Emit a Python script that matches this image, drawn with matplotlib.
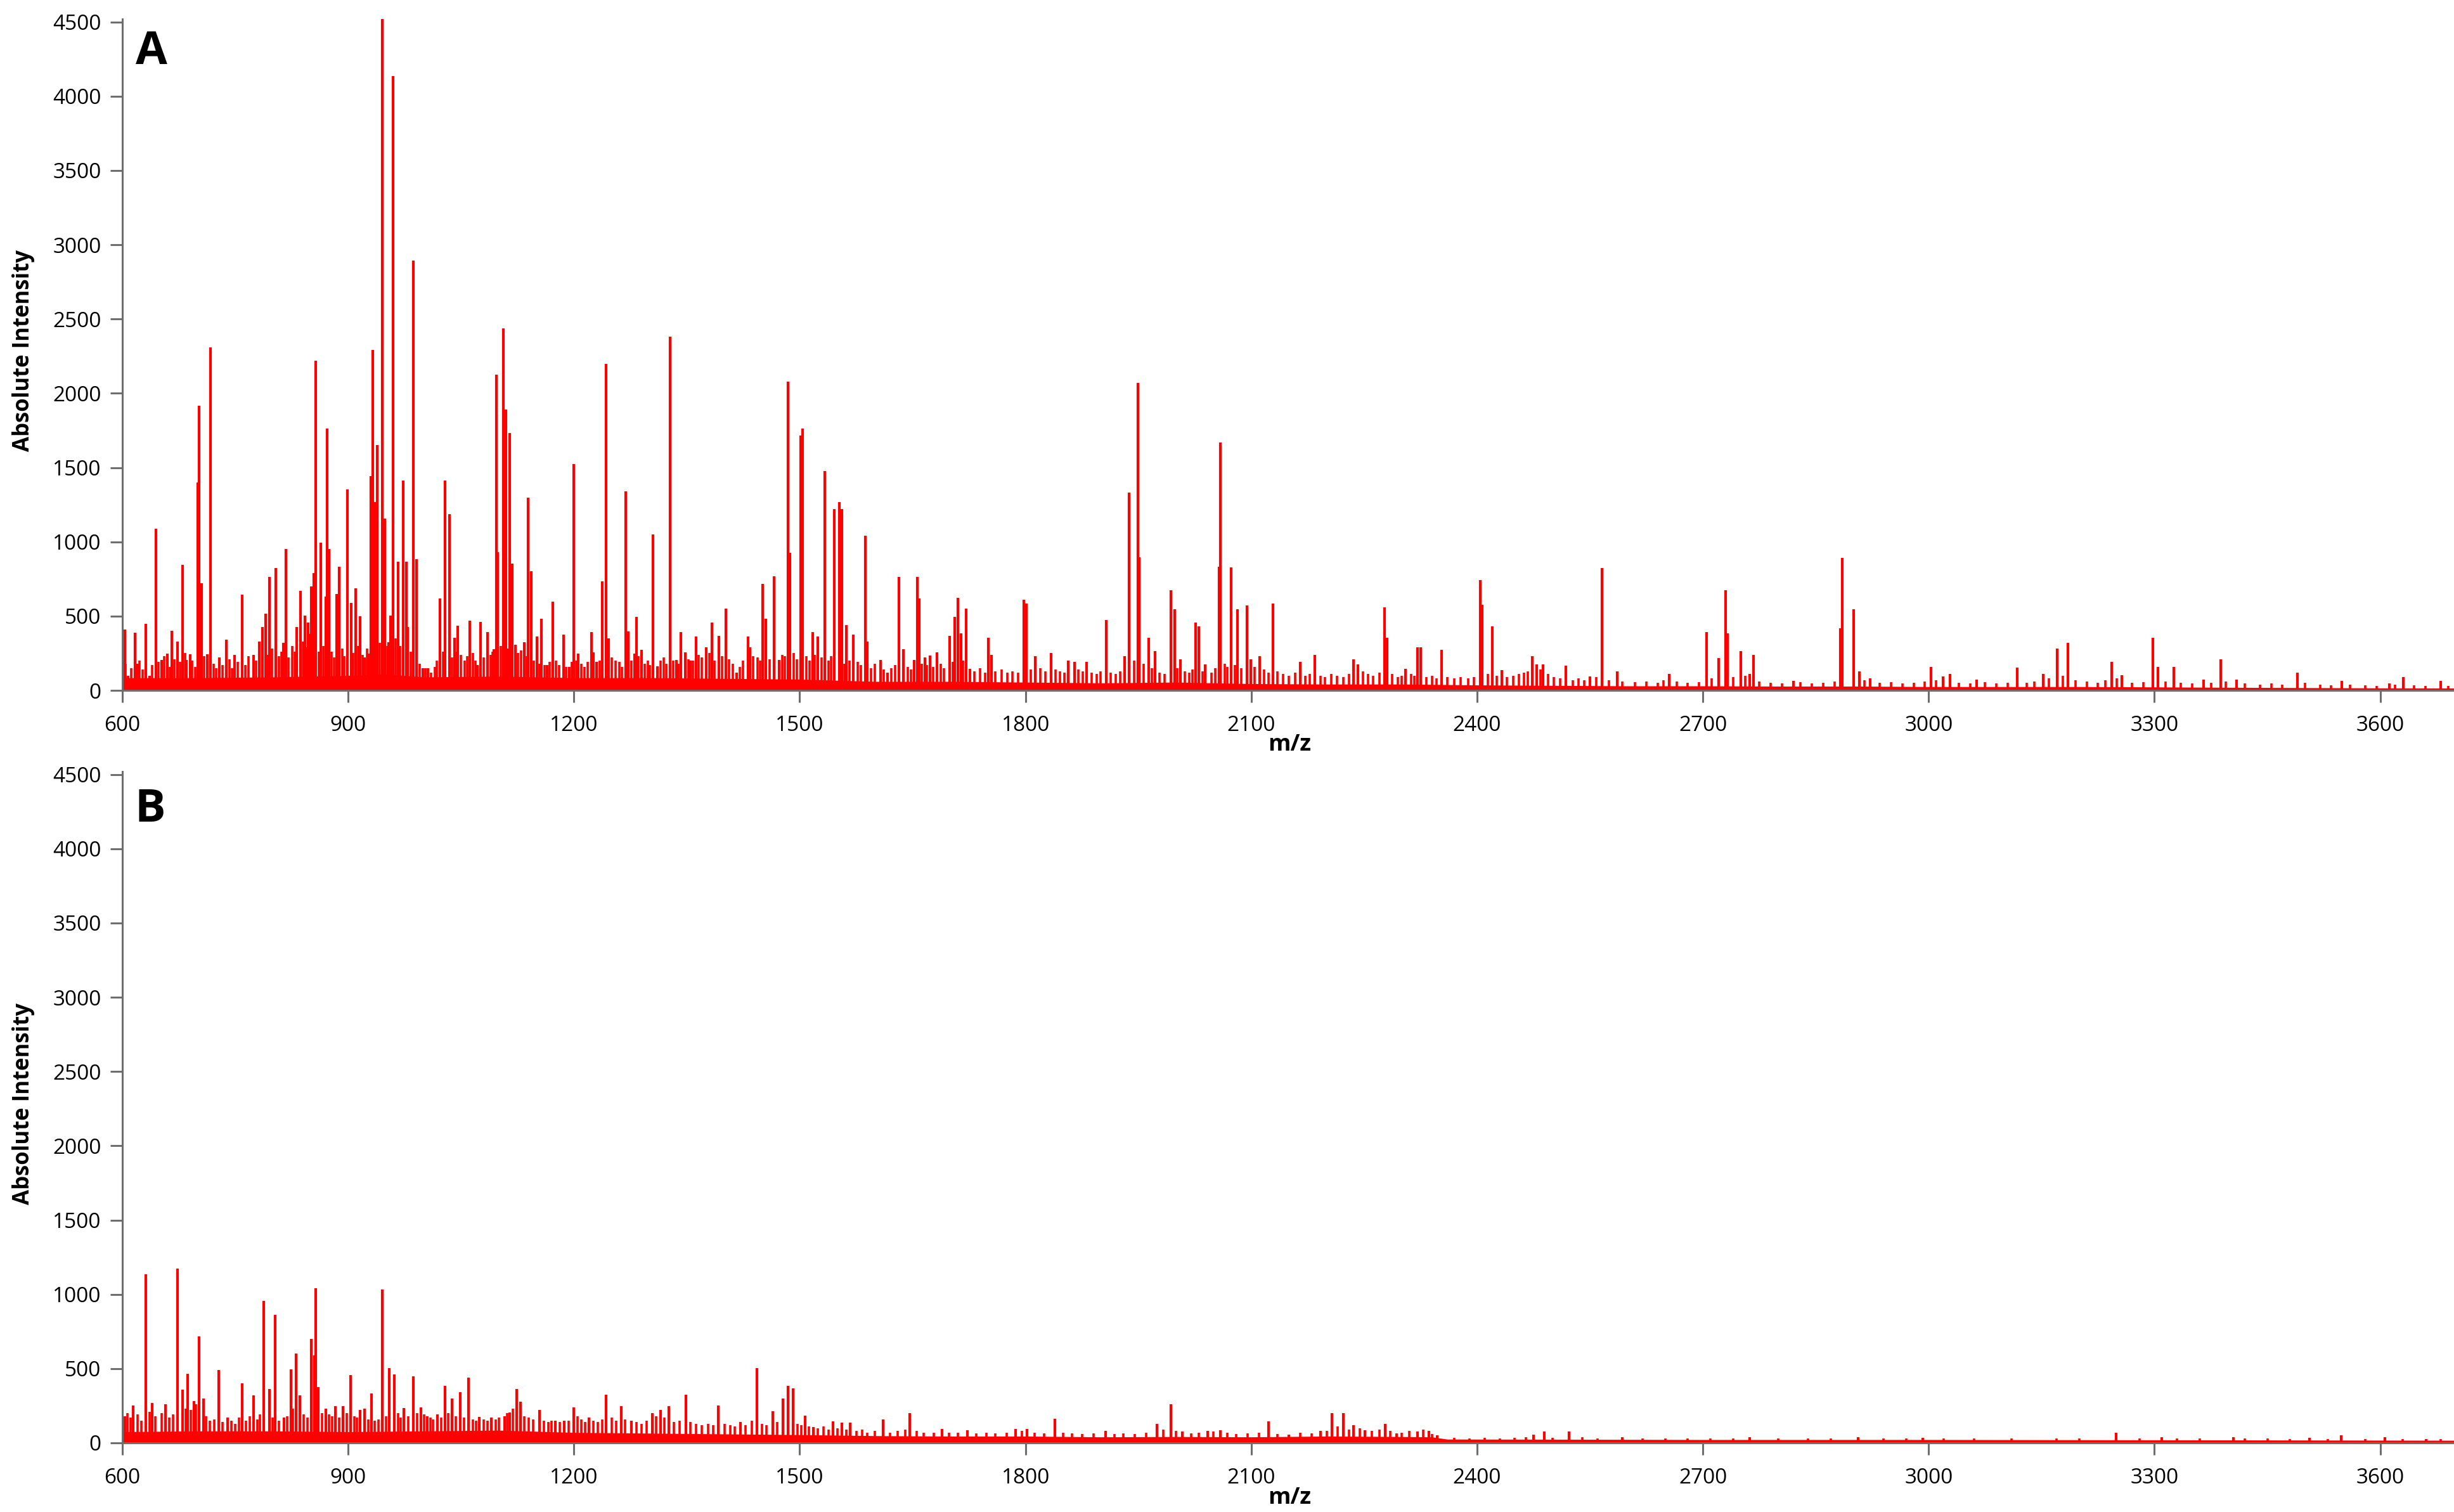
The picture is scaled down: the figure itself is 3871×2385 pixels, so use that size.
import numpy as np
import matplotlib
matplotlib.use("Agg")
import matplotlib.pyplot as plt

plt.rcParams['font.family'] = ['Open Sans', 'DejaVu Sans']

# ---- panel A: peaks (m/z, absolute intensity)
mz_a = [603, 608, 617, 620, 631, 636, 645, 652, 660, 666, 673, 680, 685, 690,
        700, 702, 705, 713, 717, 729, 738, 749, 759, 774, 782, 786, 790, 795,
        804, 814, 817, 832, 837, 843, 847, 851, 854, 857, 864, 870, 872, 875,
        885, 888, 899, 904, 910, 916, 922, 928, 930, 933, 935, 939, 945, 949,
        954, 956, 960, 966, 973, 977, 979, 987, 991, 999, 1006, 1022, 1029,
        1035, 1041, 1046, 1062, 1072, 1076, 1085, 1094, 1097, 1099, 1106,
        1110, 1115, 1118, 1122, 1134, 1139, 1143, 1151, 1157, 1164, 1172,
        1186, 1194, 1200, 1206, 1223, 1226, 1230, 1238, 1243, 1246, 1269,
        1272, 1281, 1283, 1290, 1305, 1311, 1328, 1336, 1342, 1348, 1355,
        1362, 1376, 1383, 1393, 1402, 1416, 1431, 1434, 1451, 1455, 1466,
        1473, 1484, 1487, 1501, 1504, 1517, 1524, 1533, 1546, 1553, 1556,
        1562, 1571, 1587, 1590, 1607, 1617, 1632, 1638, 1652, 1656, 1659,
        1666, 1673, 1682, 1699, 1706, 1710, 1714, 1721, 1726, 1751, 1755,
        1798, 1801, 1813, 1834, 1857, 1865, 1881, 1907, 1932, 1938, 1949,
        1951, 1964, 1972, 1993, 1998, 2006, 2026, 2030, 2039, 2057, 2059,
        2073, 2082, 2094, 2099, 2111, 2129, 2165, 2184, 2236, 2242, 2277,
        2280, 2305, 2321, 2325, 2353, 2404, 2407, 2420, 2433, 2473, 2479,
        2488, 2518, 2550, 2566, 2586, 2655, 2705, 2721, 2730, 2733, 2750,
        2762, 2767, 2820, 2883, 2885, 2900, 2908, 2922, 3003, 3019, 3028,
        3064, 3118, 3152, 3171, 3185, 3243, 3257, 3298, 3305, 3326, 3365,
        3388, 3409, 3490, 3549, 3612, 3631, 3680]
int_a = [410, 100, 390, 178, 450, 100, 1090, 206, 249, 400, 327, 845, 206, 242,
         1400, 1918, 722, 242, 2309, 220, 340, 238, 645, 240, 327, 427, 515, 764,
         825, 320, 950, 427, 670, 505, 455, 700, 789, 2219, 994, 633, 1764, 953,
         647, 832, 1353, 590, 687, 498, 220, 249, 1443, 2293, 1267, 1652, 4520, 1155,
         323, 505, 4137, 866, 1411, 866, 427, 2893, 882, 149, 149, 619, 1411,
         1187, 356, 434, 469, 171, 462, 391, 277, 2126, 930, 2437,
         1892, 1732, 853, 306, 323, 1299, 802, 363, 484, 171, 597,
         377, 156, 1523, 249, 391, 256, 192, 733, 2197, 348, 1341,
         398, 249, 497, 273, 1052, 164, 2383, 206, 391, 256, 199,
         363, 292, 455, 366, 550, 121, 363, 292, 718, 484, 768,
         206, 2078, 925, 1716, 1764, 391, 363, 1475, 1219, 1267, 1219,
         441, 377, 1040, 327, 206, 121, 764, 277, 206, 764, 619,
         220, 235, 256, 369, 497, 625, 385, 552, 144, 353, 241,
         609, 584, 231, 250, 199, 192, 192, 475, 231, 1331, 2069,
         898, 353, 263, 674, 545, 208, 455, 433, 176, 834, 1668,
         827, 545, 571, 208, 231, 584, 192, 241, 208, 176, 561,
         353, 144, 289, 289, 273, 744, 577, 433, 135, 231, 176,
         176, 167, 96, 824, 128, 112, 391, 218, 674, 385, 263,
         112, 241, 64, 417, 892, 545, 128, 80, 160, 96, 112,
         71, 154, 112, 282, 321, 192, 103, 353, 160, 160, 71,
         208, 71, 119, 64, 48, 90, 64]

# small noise spikes of panel A
grass_mz_a = [604, 612, 623, 627, 640, 648, 656, 663, 669, 677, 683, 693, 697, 709,
              721, 725, 733, 742, 746, 753, 763, 768, 778, 793, 799, 808, 811, 821,
              826, 829, 840, 845, 849, 861, 867, 878, 881, 892, 895, 907, 913, 919,
              925, 942, 952, 958, 963, 969, 983, 995, 1003, 1010, 1015, 1018, 1026,
              1038, 1044, 1050, 1055, 1058, 1066, 1069, 1080, 1089, 1092, 1103,
              1112, 1126, 1130, 1137, 1147, 1154, 1161, 1168, 1176, 1180, 1190,
              1197, 1203, 1210, 1214, 1218, 1234, 1250, 1255, 1260, 1264, 1276,
              1286, 1294, 1298, 1301, 1315, 1319, 1323, 1332, 1339, 1352, 1358,
              1366, 1370, 1380, 1387, 1397, 1406, 1411, 1420, 1425, 1438, 1444,
              1447, 1460, 1477, 1480, 1492, 1496, 1509, 1513, 1520, 1529, 1538,
              1542, 1559, 1566, 1577, 1581, 1595, 1600, 1612, 1622, 1627, 1644,
              1648, 1662, 1669, 1677, 1687, 1692, 1703, 1717,
              1732, 1740, 1746, 1760, 1768, 1776, 1783, 1790, 1807, 1820, 1826,
              1840, 1846, 1852, 1870, 1876, 1888, 1895, 1900, 1913, 1920, 1926,
              1944, 1957, 1968, 1978, 1985, 2002, 2012, 2018, 2022, 2035, 2047,
              2052, 2065, 2068, 2078, 2087, 2104, 2117, 2123, 2135, 2142, 2150,
              2158, 2172, 2178, 2192, 2198, 2206, 2214, 2222, 2230, 2248, 2255,
              2262, 2270, 2287, 2295, 2300, 2312, 2317, 2333, 2340, 2346, 2360,
              2370, 2378, 2388, 2396, 2414, 2426, 2440, 2448, 2456, 2462, 2467,
              2484, 2494, 2502, 2510, 2527, 2535, 2542, 2558, 2575, 2593,
              2610, 2625, 2640, 2648, 2665, 2680, 2695, 2712, 2740, 2756, 2775,
              2790, 2805, 2830, 2845, 2860, 2875, 2915, 2935, 2950, 2965, 2980,
              2995, 3010, 3040, 3055, 3075, 3090, 3105, 3130, 3140, 3160, 3178,
              3195, 3210, 3225, 3235, 3250, 3270, 3285, 3315, 3335, 3350, 3375,
              3395, 3420, 3440, 3455, 3470, 3500, 3520, 3535, 3560, 3580, 3595,
              3620, 3645, 3660, 3690]
grass_a = [180, 150, 200, 140, 170, 190, 230, 160, 210, 190, 250, 200, 160, 230,
           180, 150, 170, 210, 150, 190, 170, 230, 200, 240, 280, 230, 260, 220,
           300, 260, 330, 290, 380, 260, 300, 260, 220, 280, 230, 250, 300, 240,
           280, 320, 300, 280, 350, 300, 260, 180, 150, 120, 160, 200, 260,
           220, 260, 240, 200, 230, 250, 200, 220, 240, 260, 300,
           280, 250, 270, 230, 200, 180, 170, 190, 200, 170, 160,
           190, 200, 180, 160, 190, 200, 220, 200, 190, 160, 200,
           230, 180, 200, 170, 200, 220, 180, 200, 180, 210, 200,
           240, 220, 250, 200, 230, 210, 180, 160, 200, 230, 220,
           200, 210, 240, 230, 250, 210, 230, 200, 240, 220, 200,
           230, 180, 200, 190, 170, 150, 180, 140, 150, 170, 160,
           140, 180, 170, 160, 180, 150, 190, 200,
           130, 150, 120, 130, 140, 120, 130, 120, 140, 150, 130,
           140, 130, 120, 140, 130, 120, 110, 130, 120, 110, 130,
           200, 180, 150, 120, 110, 150, 130, 120, 140, 130, 120,
           150, 180, 160, 170, 150, 160, 140, 120, 130, 110, 100,
           120, 100, 110, 100, 90, 110, 100, 90, 110, 130, 110,
           100, 120, 110, 90, 100, 110, 100, 90, 100, 80, 90,
           80, 90, 80, 90, 110, 100, 90, 100, 110, 120, 130,
           140, 110, 90, 80, 70, 80, 70, 90, 70, 60,
           55, 60, 50, 70, 60, 50, 55, 80, 90, 100, 60,
           50, 45, 55, 45, 50, 60, 70, 50, 55, 45, 50,
           60, 70, 50, 45, 55, 45, 50, 50, 60, 80, 100,
           70, 60, 50, 70, 80, 50, 55, 60, 50, 45, 50,
           60, 45, 40, 45, 40, 50, 40, 35, 40, 35, 30,
           40, 35, 30, 30]

# dense noise floor of panel A
base_mz_a = [600, 700, 800, 900, 950, 1000, 1100, 1200, 1300, 1400, 1500, 1600,
             1700, 1800, 1900, 2000, 2100, 2200, 2300, 2400, 2500, 2600, 2700,
             2800, 2900, 3000, 3200, 3400, 3600, 3700]
base_a = [85, 85, 90, 100, 110, 90, 95, 85, 85, 80, 75, 60,
          60, 55, 50, 55, 45, 42, 42, 36, 33, 30, 30,
          28, 28, 25, 25, 20, 16, 15]

# ---- panel B
mz_b = [603, 614, 631, 640, 657, 673, 680, 687, 695, 702, 708, 728, 740, 759,
        774, 788, 795, 803, 815, 824, 831, 836, 851, 855, 857, 860, 870, 883,
        893, 903, 916, 922, 931, 945, 955, 961, 974, 987, 997, 1005, 1019,
        1029, 1038, 1049, 1060, 1074, 1090, 1108, 1115, 1124, 1129, 1154,
        1175, 1187, 1200, 1220, 1243, 1263, 1276, 1304, 1315, 1326, 1349,
        1392, 1421, 1443, 1464, 1478, 1484, 1491, 1507, 1518, 1544, 1556,
        1567, 1611, 1646, 1689, 1723, 1787, 1802, 1839, 1906, 1975, 1993,
        2008, 2042, 2059, 2123, 2150, 2192, 2207, 2222, 2236, 2251, 2278,
        2293, 2321, 2336, 2347, 2475, 2489, 2522, 2593, 2762, 2906, 2992,
        3249, 3310, 3405, 3506, 3548, 3606, 3661]
int_b = [180, 250, 1135, 270, 260, 1173, 360, 464, 280, 716, 300, 492, 170, 400,
         319, 957, 362, 861, 170, 496, 603, 319, 699, 589, 1040, 376, 230, 248,
         248, 457, 220, 230, 333, 1031, 504, 461, 234, 447, 241, 180, 191,
         386, 298, 340, 440, 177, 170, 180, 206, 362, 277, 220,
         150, 150, 241, 170, 323, 248, 149, 199, 220, 248, 323,
         252, 142, 504, 213, 298, 383, 369, 184, 106, 146, 135,
         135, 156, 199, 95, 85, 92, 95, 163, 81, 128, 260,
         78, 81, 85, 146, 57, 81, 199, 199, 121, 85, 128,
         64, 78, 81, 50, 57, 75, 75, 38, 38, 38, 33,
         67, 38, 38, 33, 52, 38, 24]

grass_mz_b = [607, 611, 620, 625, 636, 644, 652, 662, 667, 684, 691, 698, 711, 716,
              722, 733, 745, 750, 755, 764, 769, 779, 783, 800, 808, 819, 827, 841,
              846, 865, 875, 879, 888, 898, 908, 912, 927, 935, 940, 950, 966, 970,
              980, 992, 1001, 1009, 1013, 1024, 1033, 1043, 1054, 1066, 1070, 1080,
              1085, 1096, 1100, 1111, 1119, 1134, 1140, 1146, 1160, 1166, 1170,
              1181, 1193, 1205, 1210, 1215, 1226, 1232, 1238, 1250, 1256, 1268,
              1283, 1290, 1297, 1309, 1320, 1333, 1340, 1355, 1362, 1370, 1378,
              1385, 1400, 1408, 1414, 1428, 1436, 1450, 1456, 1470, 1497, 1502,
              1512,
              1524, 1532, 1538, 1550, 1562, 1575, 1583, 1590, 1600, 1620, 1630,
              1640, 1655, 1665, 1678, 1698, 1710, 1735, 1748, 1760, 1775, 1795,
              1812, 1825, 1850, 1862, 1875, 1890, 1918, 1930, 1945, 1960, 1983,
              2000, 2020, 2030, 2050, 2068, 2080, 2095, 2110, 2135, 2165, 2180,
              2200, 2215, 2230, 2244, 2260, 2270, 2285, 2300, 2310, 2328, 2340,
              2370, 2390, 2410, 2430, 2450, 2465, 2500, 2540, 2560, 2620, 2650,
              2680, 2710, 2740, 2800, 2840, 2870, 2940, 2970, 3020, 3060, 3110,
              3170, 3200, 3280, 3330, 3360, 3420, 3450, 3480, 3530, 3580, 3630,
              3680]
grass_b = [200, 170, 190, 150, 210, 180, 200, 170, 190, 230, 220, 260, 180, 150,
           160, 140, 150, 130, 170, 150, 180, 160, 190, 170, 150, 180, 230, 190,
           170, 200, 190, 180, 170, 200, 180, 170, 160, 150, 160, 180, 200, 170,
           180, 200, 190, 170, 160, 170, 200, 180, 170, 160, 150, 160,
           150, 160, 170, 200, 230, 180, 170, 160, 150, 140, 150,
           140, 150, 180, 160, 140, 150, 140, 160, 170, 150, 160,
           140, 130, 150, 180, 170, 140, 150, 140, 130, 120, 130,
           120, 130, 120, 110, 120, 150, 130, 120, 140, 130, 120,
           110,
           100, 110, 90, 100, 90, 80, 90, 70, 80, 70, 80,
           90, 80, 70, 70, 70, 70, 65, 70, 65, 70, 80,
           70, 65, 70, 65, 60, 65, 60, 65, 60, 70, 90,
           80, 65, 70, 75, 70, 60, 65, 70, 60, 70, 65,
           80, 110, 90, 100, 80, 90, 80, 70, 80, 90, 60,
           35, 30, 35, 30, 35, 40, 35, 40, 30, 30, 32,
           30, 30, 32, 30, 28, 30, 30, 30, 30, 28, 28,
           32, 28, 30, 30, 28, 28, 28, 26, 26, 26, 26,
           24]

base_mz_b = [600, 700, 800, 900, 1000, 1100, 1200, 1300, 1400, 1500, 1600, 1700,
             1800, 1900, 2000, 2100, 2200, 2300, 2340, 2360, 2500, 2700, 3000,
             3300, 3700]
base_b = [75, 80, 80, 75, 80, 85, 70, 65, 60, 55, 48, 45,
          45, 40, 42, 40, 45, 42, 40, 25, 24, 22, 22,
          20, 17]

W, H = 3871, 2385
RED = '#ff0000'
GREY = '#6e6e6e'

fig = plt.figure(figsize=(W / 100, H / 100), dpi=100)

ax_a = fig.add_axes([193 / W, 1 - 1089 / H, 1 - 193 / W, 1059 / H])
ax_b = fig.add_axes([193 / W, 1 - 2276 / H, 1 - 193 / W, 1059 / H])

panels = [(ax_a, mz_a, int_a, grass_mz_a, grass_a, base_mz_a, base_a),
          (ax_b, mz_b, int_b, grass_mz_b, grass_b, base_mz_b, base_b)]

for ax, mz, inten, gmz, gint, bmz, base in panels:
    ax.fill_between(bmz, 0, base, color=RED, linewidth=0)
    ax.vlines(gmz, 0, gint, color=RED, linewidth=2.6)
    ax.vlines(mz, 0, inten, color=RED, linewidth=3.0)
    ax.set_xlim(600, 3698)
    ax.set_ylim(0, 4520)
    ax.set_xticks(np.arange(600, 3700, 300))
    ax.set_yticks(np.arange(0, 4501, 500))
    for s in ['top', 'right']:
        ax.spines[s].set_visible(False)
    for s in ['left', 'bottom']:
        ax.spines[s].set_color(GREY)
        ax.spines[s].set_linewidth(2.2)
    ax.tick_params(axis='both', direction='out', length=14, width=2.2,
                   color=GREY, labelsize=24, labelcolor='black')
    ax.tick_params(axis='x', pad=14)
    ax.tick_params(axis='y', pad=10)

# axis titles and panel letters
for yc in [553, 1741]:
    fig.text(37 / W, 1 - yc / H, 'Absolute Intensity', rotation=90,
             ha='center', va='center', fontsize=25, fontweight='bold')
for yc in [1175, 2363]:
    fig.text(2034 / W, 1 - yc / H, 'm/z', ha='center', va='center',
             fontsize=26, fontweight='bold')
fig.text(239 / W, 1 - 82 / H, 'A', ha='center', va='center',
         fontsize=52, fontweight='bold')
fig.text(237 / W, 1 - 1277 / H, 'B', ha='center', va='center',
         fontsize=52, fontweight='bold')

fig.savefig('out.png', dpi=100)
